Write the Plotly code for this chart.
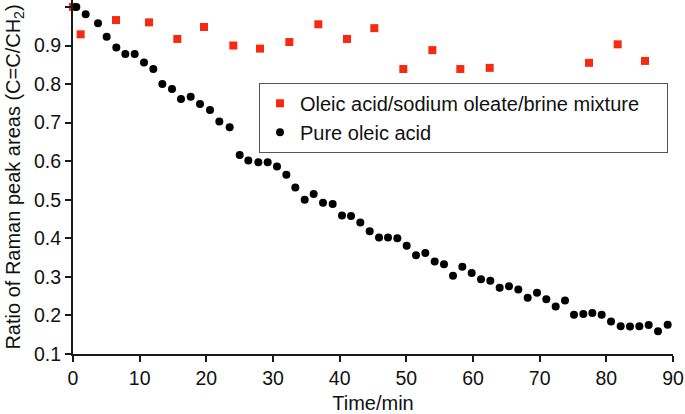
import plotly.graph_objects as go

# Pure oleic acid
pure_t = [0.5, 1.9, 3.75, 5.05, 6.5, 7.85, 9.25, 10.65, 12.05, 13.4, 14.85, 16.2, 17.65,
          19.05, 20.55, 21.95, 23.5, 25.0, 26.3, 27.8, 29.2, 30.6, 32.0, 33.35, 34.75,
          36.1, 37.5, 38.95, 40.35, 41.7, 43.1, 44.5, 45.9, 47.25, 48.65, 50.05, 51.45,
          52.85, 54.25, 55.65, 57.0, 58.4, 59.8, 61.2, 62.6, 64.0, 65.4, 66.8, 68.2,
          69.6, 71.0, 72.4, 73.8, 75.15, 76.55, 77.9, 79.3, 80.7, 82.15, 83.55, 84.95,
          86.35, 87.75, 89.2]
pure_v = [1.0, 0.981, 0.958, 0.923, 0.895, 0.878, 0.878, 0.856, 0.839, 0.8, 0.787, 0.761,
          0.767, 0.748, 0.733, 0.703, 0.688, 0.616, 0.602, 0.597, 0.597, 0.586, 0.565,
          0.532, 0.5, 0.515, 0.492, 0.489, 0.459, 0.458, 0.441, 0.418, 0.402, 0.402, 0.4,
          0.381, 0.356, 0.362, 0.34, 0.333, 0.303, 0.326, 0.31, 0.294, 0.29, 0.272,
          0.276, 0.267, 0.246, 0.259, 0.242, 0.223, 0.239, 0.202, 0.204, 0.206, 0.202,
          0.184, 0.172, 0.171, 0.172, 0.175, 0.159, 0.176]

# Oleic acid/sodium oleate/brine mixture
mix_t = [0.0, 1.15, 6.45, 11.4, 15.65, 19.65, 24.05, 28.05, 32.45, 36.8, 41.1, 45.2,
         49.55, 53.9, 58.1, 62.5, 77.4, 81.7, 85.8]
mix_v = [1.0, 0.929, 0.966, 0.96, 0.917, 0.948, 0.9, 0.892, 0.909, 0.955, 0.917, 0.945,
         0.839, 0.888, 0.839, 0.842, 0.855, 0.903, 0.86]

x_ticks = [0, 10, 20, 30, 40, 50, 60, 70, 80, 90]
y_ticks = [0.1, 0.2, 0.3, 0.4, 0.5, 0.6, 0.7, 0.8, 0.9, 1.0]
y_ticklabels = ["0.1", "0.2", "0.3", "0.4", "0.5", "0.6", "0.7", "0.8", "0.9", "1"]

FONT = "Liberation Sans, Arial, Helvetica, sans-serif"
PAD = "\u00a0" * 4

fig = go.Figure()
fig.add_trace(go.Scatter(
    x=mix_t, y=mix_v, mode="markers", name="Oleic acid/sodium oleate/brine mixture" + PAD,
    marker=dict(symbol="square", size=8, color="#f52a10"), cliponaxis=False))
fig.add_trace(go.Scatter(
    x=pure_t, y=pure_v, mode="markers", name="Pure oleic acid",
    marker=dict(symbol="circle", size=8, color="#000000"), cliponaxis=False))

axis_common = dict(
    showline=True, linecolor="#1a1a1a", linewidth=2, ticks="outside", ticklen=6,
    tickwidth=2, tickcolor="#1a1a1a", showgrid=False, zeroline=False, automargin=False,
    tickfont=dict(family=FONT, size=19.5, color="#111"),
)

fig.update_layout(
    width=685, height=414,
    margin=dict(l=73, r=12, t=0, b=60),
    paper_bgcolor="white", plot_bgcolor="white",
    font=dict(family=FONT, size=20, color="#111"),
    xaxis=dict(range=[0, 90], tickvals=x_ticks, **axis_common,
               title=dict(text="Time/min", font=dict(family=FONT, size=20), standoff=9)),
    yaxis=dict(range=[0.1, 1.018], tickvals=y_ticks, ticktext=y_ticklabels, **axis_common,
               title=dict(text="Ratio of Raman peak areas (C=C/CH<sub>2</sub>)",
                          font=dict(family=FONT, size=20), standoff=8)),
    legend=dict(x=0.31, y=0.766, xanchor="left", yanchor="top",
                bordercolor="#555", borderwidth=1, bgcolor="white",
                font=dict(family=FONT, size=20, color="#111"),
                itemwidth=30, tracegroupgap=0),
    showlegend=True,
)

fig.write_html("out.html", config={"displayModeBar": False},
               post_script="document.body.style.margin='0';document.body.style.padding='0';")
